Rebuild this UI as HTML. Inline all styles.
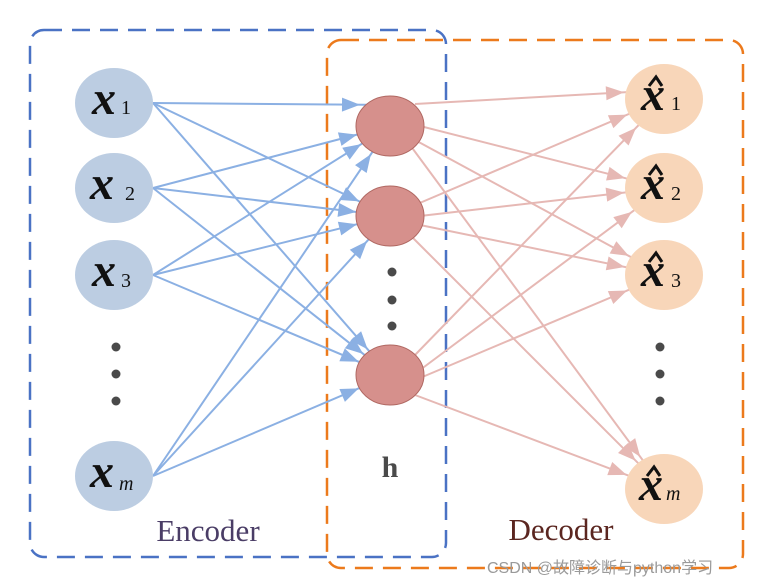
<!DOCTYPE html>
<html><head><meta charset="utf-8"><style>
html,body{margin:0;padding:0;background:#fff;width:769px;height:585px;overflow:hidden}
svg{display:block}
.xi{font-family:"Liberation Serif",serif;font-style:italic;font-weight:bold;font-size:48px;fill:#111}
.sub{font-family:"Liberation Serif",serif;font-size:20px;fill:#111}
.subi{font-family:"Liberation Serif",serif;font-style:italic;font-size:20px;fill:#111}
</style></head><body>
<svg width="769" height="585" viewBox="0 0 769 585">
<defs>
<marker id="ab" markerUnits="userSpaceOnUse" markerWidth="20" markerHeight="16" refX="52" refY="8" orient="auto" overflow="visible">
<path d="M0,1 L18,8 L0,15 Z" fill="#8bb0e3"/>
</marker>
<marker id="ar" markerUnits="userSpaceOnUse" markerWidth="20" markerHeight="16" refX="58" refY="8" orient="auto" overflow="visible">
<path d="M0,1 L18,8 L0,15 Z" fill="#e6b8b4"/>
</marker>
</defs>
<rect x="30" y="30" width="416" height="527" rx="14" fill="none" stroke="#4a72c4" stroke-width="2.5" stroke-dasharray="18,10"/>
<rect x="327" y="40" width="416" height="528" rx="14" fill="none" stroke="#ec7a1c" stroke-width="2.5" stroke-dasharray="18,10"/>
<g stroke="#8bb0e3" stroke-width="2" marker-end="url(#ab)">
<line x1="153" y1="103" x2="394" y2="105"/>
<line x1="153" y1="103" x2="390" y2="216"/>
<line x1="153" y1="103" x2="390" y2="375"/>
<line x1="153" y1="188" x2="390" y2="126"/>
<line x1="153" y1="188" x2="390" y2="216"/>
<line x1="153" y1="188" x2="390" y2="375"/>
<line x1="153" y1="275" x2="390" y2="126"/>
<line x1="153" y1="275" x2="390" y2="216"/>
<line x1="153" y1="275" x2="390" y2="375"/>
<line x1="153" y1="476" x2="390" y2="126"/>
<line x1="153" y1="476" x2="390" y2="216"/>
<line x1="153" y1="476" x2="390" y2="375"/>
</g>
<g stroke="#e6b8b4" stroke-width="2" marker-end="url(#ar)">
<line x1="415" y1="104" x2="664" y2="90"/>
<line x1="420" y1="126" x2="664" y2="188"/>
<line x1="415" y1="140" x2="664" y2="275"/>
<line x1="410" y1="145" x2="664" y2="489"/>
<line x1="415" y1="205" x2="664" y2="99"/>
<line x1="420" y1="216" x2="664" y2="188"/>
<line x1="420" y1="225" x2="664" y2="275"/>
<line x1="410" y1="235" x2="664" y2="489"/>
<line x1="415" y1="355" x2="664" y2="99"/>
<line x1="420" y1="370" x2="664" y2="188"/>
<line x1="420" y1="378" x2="664" y2="275"/>
<line x1="415" y1="395" x2="664" y2="489"/>
</g>
<g fill="#bccde2">
<ellipse cx="114" cy="103" rx="39" ry="35"/>
<ellipse cx="114" cy="188" rx="39" ry="35"/>
<ellipse cx="114" cy="275" rx="39" ry="35"/>
<ellipse cx="114" cy="476" rx="39" ry="35"/>
</g>
<text class="xi" x="92" y="114">x</text><text class="sub" x="121" y="114">1</text>
<text class="xi" x="90" y="199">x</text><text class="sub" x="125" y="200">2</text>
<text class="xi" x="92" y="286">x</text><text class="sub" x="121" y="287">3</text>
<text class="xi" x="90" y="487">x</text><text class="subi" x="119" y="490">m</text>
<g fill="#d6908c" stroke="#b06862" stroke-width="1">
<ellipse cx="390" cy="126" rx="34" ry="30"/>
<ellipse cx="390" cy="216" rx="34" ry="30"/>
<ellipse cx="390" cy="375" rx="34" ry="30"/>
</g>
<g fill="#f8d6b9">
<ellipse cx="664" cy="99" rx="39" ry="35"/>
<ellipse cx="664" cy="188" rx="39" ry="35"/>
<ellipse cx="664" cy="275" rx="39" ry="35"/>
<ellipse cx="664" cy="489" rx="39" ry="35"/>
</g>
<g>
<text class="xi" x="641" y="110">x</text><text class="sub" x="671" y="110">1</text>
<text class="xi" x="641" y="199">x</text><text class="sub" x="671" y="200">2</text>
<text class="xi" x="641" y="286">x</text><text class="sub" x="671" y="287">3</text>
<text class="xi" x="639" y="500">x</text><text class="subi" x="666" y="500">m</text>
</g>
<g fill="none" stroke="#111" stroke-width="3" stroke-linejoin="miter">
<path d="M649,86 L656,77 L662,86"/>
<path d="M649,175 L656,166 L662,175"/>
<path d="M649,262 L656,253 L662,262"/>
<path d="M647,476 L654,467 L660,476"/>
</g>
<g fill="#4a4a4a">
<circle cx="116" cy="347" r="4.5"/><circle cx="116" cy="374" r="4.5"/><circle cx="116" cy="401" r="4.5"/>
<circle cx="392" cy="272" r="4.5"/><circle cx="392" cy="300" r="4.5"/><circle cx="392" cy="326" r="4.5"/>
<circle cx="660" cy="347" r="4.5"/><circle cx="660" cy="374" r="4.5"/><circle cx="660" cy="401" r="4.5"/>
</g>
<text x="390" y="477" text-anchor="middle" font-family="Liberation Serif,serif" font-weight="bold" font-size="30" fill="#4a4a4a">h</text>
<text x="208" y="541" text-anchor="middle" font-family="Liberation Serif,serif" font-size="31" fill="#4a3d66">Encoder</text>
<text x="561" y="540" text-anchor="middle" font-family="Liberation Serif,serif" font-size="31" fill="#5b2620">Decoder</text>
<text x="487" y="573" font-family="Liberation Sans,Noto Sans CJK SC,sans-serif" font-size="16" fill="#9a9a9a">CSDN @故障诊断与python学习</text>
</svg>
</body></html>
